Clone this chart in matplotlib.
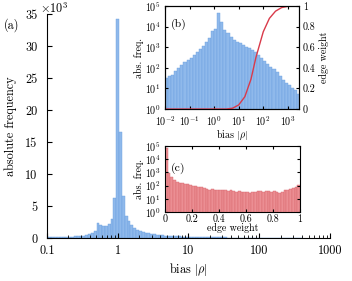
import numpy as np
import matplotlib
matplotlib.use("Agg")
import matplotlib.pyplot as plt
from matplotlib.ticker import FixedLocator, NullFormatter, LogLocator

plt.rcParams['font.family'] = ['cmr10', 'DejaVu Serif']
plt.rcParams['mathtext.fontset'] = 'cm'
plt.rcParams['axes.formatter.use_mathtext'] = True
plt.rcParams['axes.unicode_minus'] = False

# ---- main histogram (a): log10 bin centres and counts (thousands) ----
main_logc = [round(-1.0 + 0.04 * k, 2) for k in range(91)]
main_counts_k = [
    0.12, 0.12, 0.13, 0.14, 0.15, 0.16, 0.17, 0.19, 0.21, 0.23,
    0.27, 0.32, 0.35, 0.35, 0.42, 0.55, 0.75, 1.05, 2.4, 2.1,
    1.9, 1.85, 2.2, 3.0, 6.3, 34.2, 16.5, 6.5, 3.5, 2.6,
    2.0, 1.6, 1.3, 1.1, 0.95, 0.82, 0.72, 0.63, 0.56, 0.50,
    0.45, 0.41, 0.37, 0.34, 0.31, 0.29, 0.27, 0.25, 0.23, 0.21,
    0.20, 0.19, 0.18, 0.17, 0.16, 0.15, 0.14, 0.13, 0.12, 0.11,
    0.10, 0.09, 0.085, 0.08, 0.07, 0.065, 0.06, 0.055, 0.05, 0.045,
    0.04, 0.036, 0.032, 0.029, 0.026, 0.023, 0.02, 0.018, 0.016, 0.014,
    0.012, 0.01, 0.009, 0.008, 0.007, 0.006, 0.005, 0.004, 0.003, 0.002,
    0.0015,
]
main_xticks = [0.1, 1, 10, 100, 1000]
main_xticklabels = ["0.1", "1", "10", "100", "1000"]
main_yticks_k = [0, 5, 10, 15, 20, 25, 30, 35]

# ---- inset (b): log10 bin centres, log10 counts ----
b_logc = [round(-2.0 + 0.125 * k + 0.0625, 4) for k in range(44)]
b_logcount = [
    1.50, 1.58, 1.66, 1.85, 2.00, 2.15, 2.30, 2.40, 2.47, 2.60,
    2.75, 2.90, 3.05, 3.25, 3.45, 3.80, 3.90, 4.68, 4.24, 3.84,
    3.68, 3.50, 3.35, 3.27, 3.19, 3.11, 3.03, 2.95, 2.87, 2.75,
    2.62, 2.50, 2.35, 2.20, 2.06, 1.92, 1.78, 1.60, 1.42, 1.28,
    1.15, 1.02, 0.90, 0.74,
]
# edge weight vs bias curve
w_logbias = [-2.0, 0.5, 0.75, 1.0, 1.25, 1.5, 1.7, 2.0, 2.25, 2.5, 2.75, 3.0, 3.45]
w_weight = [0.0, 0.0, 0.008, 0.04, 0.12, 0.29, 0.5, 0.75, 0.88, 0.95, 0.985, 0.997, 1.0]

# ---- inset (c): 50 linear bins of edge weight, log10 counts ----
c_logcount = [
    4.82, 2.93, 2.63, 2.42, 2.30, 2.22, 2.17, 2.12, 2.10, 2.05,
    1.98, 1.95, 1.90, 1.88, 1.80, 1.78, 1.70, 1.72, 1.68, 1.70,
    1.68, 1.70, 1.65, 1.60, 1.68, 1.62, 1.55, 1.58, 1.50, 1.55,
    1.48, 1.46, 1.52, 1.50, 1.56, 1.60, 1.55, 1.62, 1.58, 1.50,
    1.62, 1.48, 1.41, 1.55, 1.67, 1.70, 1.75, 1.80, 1.90, 2.05,
]

blue = '#8fb9eb'
blue_edge = '#6a9fdf'
red_face = '#eb8e93'
red_edge = '#d8646c'
red_line = '#d93a4a'

fs_main = 8.8
fs_in = 7.2

fig = plt.figure(figsize=(3.52, 2.81), dpi=100)

# ---------------- main axes ----------------
ax = fig.add_axes([0.1335, 0.153, 0.804, 0.797])
lc = np.array(main_logc)
le = 10 ** (lc - 0.02)
re = 10 ** (lc + 0.02)
ax.bar(le, np.array(main_counts_k) * 1000, width=re - le, align='edge',
       color=blue, edgecolor=blue_edge, linewidth=0.3)
ax.set_xscale('log')
ax.set_xlim(0.1, 1000)
ax.set_ylim(0, 35000)
ax.set_xticks(main_xticks)
ax.set_xticklabels(main_xticklabels)
ax.set_yticks([v * 1000 for v in main_yticks_k])
ax.set_yticklabels([str(v) for v in main_yticks_k])
ax.spines['top'].set_visible(False)
ax.spines['right'].set_visible(False)
ax.tick_params(which='both', direction='in', labelsize=fs_main)
ax.tick_params(axis='y', which='major', length=3.5, pad=7)
ax.tick_params(axis='x', which='major', length=3.5, pad=5)
ax.tick_params(which='minor', length=2)
ax.set_xlabel(r'bias $|\rho|$', fontsize=fs_main, labelpad=3)
ax.set_ylabel('absolute frequency', fontsize=fs_main, labelpad=6)
fig.text(0.115, 0.995, r'$\times 10^3$', fontsize=fs_main, va='top', ha='left')
fig.text(0.012, 0.91, '(a)', fontsize=fs_main, va='center', ha='left')

# ---------------- inset (b) ----------------
axb = fig.add_axes([0.469, 0.612, 0.380, 0.3666])
bc = np.array(b_logc)
ble = 10 ** (bc - 0.0625)
bre = 10 ** (bc + 0.0625)
axb.bar(ble, 10 ** np.array(b_logcount), width=bre - ble, align='edge',
        color=blue, edgecolor=blue_edge, linewidth=0.3)
axb.set_xscale('log')
axb.set_yscale('log')
axb.set_xlim(0.01, 10 ** 3.45)
axb.set_ylim(1, 1e5)
axb.xaxis.set_major_locator(FixedLocator([1e-2, 1e-1, 1, 10, 100, 1000]))
axb.xaxis.set_minor_locator(LogLocator(base=10, subs=np.arange(2, 10)))
axb.xaxis.set_minor_formatter(NullFormatter())
axb.yaxis.set_major_locator(FixedLocator([1, 10, 100, 1e3, 1e4, 1e5]))
axb.yaxis.set_minor_locator(LogLocator(base=10, subs=np.arange(2, 10)))
axb.yaxis.set_minor_formatter(NullFormatter())
axb.tick_params(which='both', direction='in', labelsize=fs_in, top=True)
axb.tick_params(axis='x', pad=4)
axb.tick_params(axis='y', pad=3)
axb.tick_params(which='major', length=2.5)
axb.tick_params(which='minor', length=1.3)
axb.set_xlabel(r'bias $|\rho|$', fontsize=fs_in, labelpad=0)
axb.set_ylabel('abs. freq.', fontsize=fs_in, labelpad=1)
axb.text(0.04, 0.80, '(b)', transform=axb.transAxes, fontsize=8.5)
axw = axb.twinx()
axw.plot(10 ** np.array(w_logbias), w_weight, color=red_line, lw=1.0)
axw.set_ylim(0, 1)
axw.set_yticks([0, 0.2, 0.4, 0.6, 0.8, 1.0])
axw.set_yticklabels(['0', '0.2', '0.4', '0.6', '0.8', '1'])
axw.tick_params(direction='in', labelsize=fs_in, length=2.5, pad=3)
axw.set_ylabel('edge weight', fontsize=fs_in, labelpad=2)

# ---------------- inset (c) ----------------
axc = fig.add_axes([0.469, 0.2456, 0.383, 0.2344])
n = len(c_logcount)
edges = np.linspace(0, 1, n + 1)
axc.bar(edges[:-1], 10 ** np.array(c_logcount), width=1.0 / n, align='edge',
        color=red_face, edgecolor=red_edge, linewidth=0.3)
axc.set_yscale('log')
axc.set_xlim(0, 1)
axc.set_ylim(1, 1e5)
axc.set_xticks([0, 0.2, 0.4, 0.6, 0.8, 1.0])
axc.set_xticklabels(['0', '0.2', '0.4', '0.6', '0.8', '1'])
axc.yaxis.set_major_locator(FixedLocator([1, 10, 100, 1e3, 1e4, 1e5]))
axc.yaxis.set_minor_locator(LogLocator(base=10, subs=np.arange(2, 10)))
axc.yaxis.set_minor_formatter(NullFormatter())
axc.tick_params(which='both', direction='in', labelsize=fs_in, right=True, top=True)
axc.tick_params(axis='x', pad=2)
axc.tick_params(axis='y', pad=3)
axc.tick_params(which='major', length=2.5)
axc.tick_params(which='minor', length=1.3)
axc.set_xlabel('edge weight', fontsize=fs_in, labelpad=-1)
axc.set_ylabel('abs. freq.', fontsize=fs_in, labelpad=1)
axc.text(0.04, 0.62, '(c)', transform=axc.transAxes, fontsize=8.5)

fig.savefig('out.png', dpi=100)
